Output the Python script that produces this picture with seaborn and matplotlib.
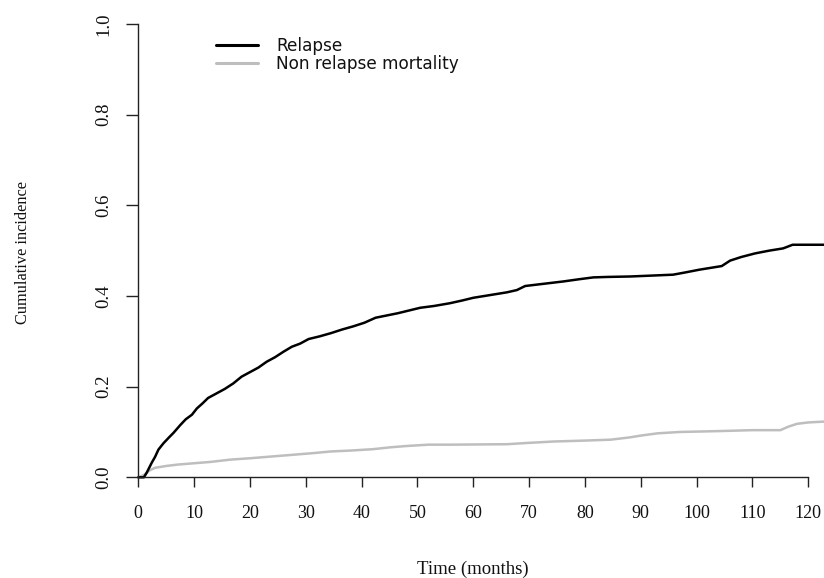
import matplotlib
matplotlib.use("Agg")
import matplotlib.pyplot as plt
import pandas as pd
import seaborn as sns

# Cumulative incidence of relapse (months, probability)
relapse_t = [0, 1.0, 1.5, 2.4, 3.0, 3.6, 4.5, 5.5, 6.3, 7.5, 8.5, 9.6, 10.5, 11.5,
             12.5, 14, 15.5, 17, 18.5, 20, 21.5, 23, 24.5, 26, 27.5, 29, 30.5,
             32.5, 34.5, 36.5, 38.5, 40.5, 42.5, 44.5, 46.5, 48.5, 50.5, 53,
             55.8, 58, 60, 63, 66, 67.8, 69.3, 72, 76.1, 79, 81.5, 84, 88.1, 92,
             95.8, 98, 100.5, 103, 104.5, 106, 108, 110.5, 113, 115.5, 117.2, 123]
relapse_ci = [0, 0.0, 0.01, 0.032, 0.045, 0.061, 0.075, 0.088, 0.098, 0.115, 0.128,
              0.138, 0.152, 0.163, 0.175, 0.185, 0.195, 0.207, 0.222, 0.232, 0.242,
              0.255, 0.265, 0.277, 0.288, 0.295, 0.305, 0.311, 0.318, 0.326, 0.333,
              0.341, 0.352, 0.357, 0.362, 0.368, 0.374, 0.378, 0.384, 0.390, 0.396,
              0.402, 0.408, 0.413, 0.422, 0.426, 0.432, 0.437, 0.441, 0.442, 0.443,
              0.445, 0.447, 0.452, 0.458, 0.463, 0.466, 0.478, 0.486, 0.494, 0.500,
              0.505, 0.513, 0.513]

# Cumulative incidence of non relapse mortality
nrm_t = [0, 1.0, 2.0, 3.0, 5, 7, 10, 13, 16.5, 20, 24, 28, 31, 34.5, 38, 42, 45,
         48, 52, 56, 66, 70, 74.5, 80, 84.6, 88, 90, 93, 97, 104.2, 110, 115,
         116.5, 118, 120, 123]
nrm_ci = [0, 0.005, 0.015, 0.021, 0.025, 0.028, 0.031, 0.034, 0.039, 0.042, 0.046,
          0.050, 0.053, 0.057, 0.059, 0.062, 0.066, 0.069, 0.072, 0.072, 0.073,
          0.076, 0.079, 0.081, 0.083, 0.088, 0.092, 0.097, 0.100, 0.102, 0.104,
          0.104, 0.112, 0.118, 0.121, 0.123]

series_names = ["Relapse", "Non relapse mortality"]
series_colors = ["#000000", "#bebebe"]
x_ticks = [0, 10, 20, 30, 40, 50, 60, 70, 80, 90, 100, 110, 120]
y_ticks = [0.0, 0.2, 0.4, 0.6, 0.8, 1.0]

sns.set_theme(style="ticks")
plt.rcParams["font.family"] = ["Liberation Serif", "DejaVu Serif"]

W, H = 824, 578
fig = plt.figure(figsize=(W / 100, H / 100), dpi=100)
x0, x_end, y0, y1 = 138.3, 824.0, 477.3, 24.0
ax = fig.add_axes([x0 / W, 1 - y0 / H, (x_end - x0) / W, (y0 - y1) / H])

frames = [
    pd.DataFrame({"t": relapse_t, "ci": relapse_ci, "event": series_names[0]}),
    pd.DataFrame({"t": nrm_t, "ci": nrm_ci, "event": series_names[1]}),
]
for df, color in zip(frames[::-1], series_colors[::-1]):
    sns.lineplot(data=df, x="t", y="ci", ax=ax, color=color, linewidth=1.8,
                 sort=False, estimator=None, legend=False, clip_on=False)

ax.set_xlim(0, (x_end - x0) / 5.583)
ax.set_ylim(0, 1)
ax.set_xlabel("")
ax.set_ylabel("")
sns.despine(ax=ax, top=True, right=True)
ax.spines["left"].set_bounds(0, 1)
ax.spines["bottom"].set_bounds(0, 120)
for sp in ("left", "bottom"):
    ax.spines[sp].set_linewidth(1.0)
    ax.spines[sp].set_color("#222222")

ax.set_xticks(x_ticks)
ax.set_xticklabels([str(v) for v in x_ticks], fontsize=13)
ax.set_yticks(y_ticks)
ax.set_yticklabels([f"{v:.1f}" for v in y_ticks], fontsize=13.5,
                   rotation=90, va="center")
ax.tick_params(axis="x", direction="out", length=7.2, width=1.0,
               color="#222222", pad=13, labelcolor="#111111")
ax.tick_params(axis="y", direction="out", length=8.6, width=1.0,
               color="#222222", pad=10, labelcolor="#111111")

fig.text(473 / W, 1 - 569 / H, "Time (months)", ha="center", va="center",
         fontsize=13.5, color="#111111")
fig.text(23 / W, 1 - 252 / H, "Cumulative incidence", ha="center", va="center",
         rotation=90, fontsize=11.8, color="#111111")

# legend in the upper left of the plotting area
handles = [plt.Line2D([], [], color=c, linewidth=2.2) for c in series_colors]
leg = ax.legend(handles, series_names, loc="upper left",
                bbox_to_anchor=((209 - x0) / (x_end - x0), 1 - (30 - y1) / (y0 - y1)),
                frameon=False, handlelength=2.5, handletextpad=1.05,
                labelspacing=0.0, borderaxespad=0,
                prop={"family": "DejaVu Sans", "size": 12.2})
for t in leg.get_texts():
    t.set_color("#111111")

fig.savefig("out.png", dpi=100)
